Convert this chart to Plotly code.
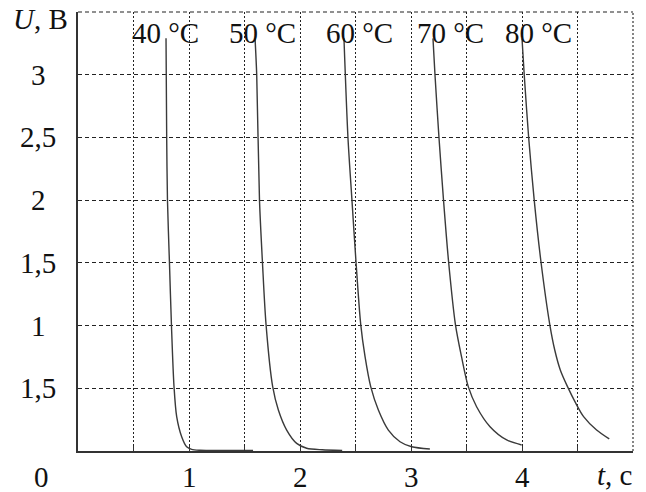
import plotly.graph_objects as go

# ---- data ----
temps = ["40 °C", "50 °C", "60 °C", "70 °C", "80 °C"]

t40 = [0.793, 0.799, 0.806, 0.824, 0.842, 0.865, 0.889, 0.934, 0.979, 1.024, 1.10, 1.30, 1.577]
u40 = [3.29, 2.5, 2.0, 1.5, 1.0, 0.513, 0.274, 0.114, 0.034, 0.013, 0.006, 0.004, 0.004]

t50 = [1.595, 1.61, 1.635, 1.662, 1.694, 1.754, 1.805, 1.880, 1.970, 2.06, 2.20, 2.38]
u50 = [3.29, 3.0, 2.0, 1.5, 1.01, 0.513, 0.327, 0.167, 0.061, 0.022, 0.010, 0.005]

t60 = [2.396, 2.432, 2.468, 2.504, 2.547, 2.586, 2.637, 2.706, 2.796, 2.901, 3.006, 3.17]
u60 = [3.29, 2.5, 2.0, 1.515, 1.01, 0.752, 0.513, 0.327, 0.167, 0.074, 0.034, 0.016]

t70 = [3.198, 3.216, 3.252, 3.293, 3.338, 3.400, 3.455, 3.516, 3.591, 3.712, 3.862, 3.997]
u70 = [3.29, 3.0, 2.5, 2.0, 1.515, 1.01, 0.752, 0.513, 0.353, 0.194, 0.088, 0.048]

t80 = [4.0, 4.02, 4.06, 4.11, 4.17, 4.25, 4.295, 4.345, 4.410, 4.485, 4.555, 4.672, 4.786]
u80 = [3.29, 3.0, 2.5, 2.0, 1.515, 1.01, 0.805, 0.646, 0.513, 0.38, 0.274, 0.167, 0.096]

x_tickvals = [0.5, 1, 1.5, 2, 2.5, 3, 3.5, 4, 4.5, 5]
x_labels = ["1", "2", "3", "4"]
x_label_vals = [1, 2, 3, 4]
y_tickvals = [0.5, 1, 1.5, 2, 2.5, 3, 3.5]
y_labels = ["1,5", "1", "1,5", "2", "2,5", "3"]
y_label_vals = [0.5, 1, 1.5, 2, 2.5, 3]

# label positions (layout, not data)
temp_label_x = [0.788, 1.662, 2.536, 3.356, 4.149]
temp_label_y = 3.33

FONT = "Liberation Serif"
FS = 29
INK = "#111111"
GRID = "#222"

series = [(t40, u40), (t50, u50), (t60, u60), (t70, u70), (t80, u80)]

fig = go.Figure()
for (tx, uy), name in zip(series, temps):
    fig.add_trace(go.Scatter(
        x=tx, y=uy, mode="lines", name=name,
        line=dict(color="#3a3a3a", width=1.4, shape="spline", smoothing=0.8),
        showlegend=False, hoverinfo="skip"))

ann = []
for txt, xv in zip(temps, temp_label_x):
    ann.append(dict(x=xv, y=temp_label_y, xref="x", yref="y", text=txt,
                    showarrow=False, xanchor="center", yanchor="middle",
                    font=dict(family=FONT, size=FS, color=INK)))
for txt, xv in zip(x_labels, x_label_vals):
    ann.append(dict(x=xv, y=0, xref="x", yref="paper", text=txt,
                    showarrow=False, xanchor="center", yanchor="middle",
                    yshift=-26, font=dict(family=FONT, size=FS, color=INK)))
for txt, yv in zip(y_labels, y_label_vals):
    ann.append(dict(x=0, y=yv, xref="paper", yref="y", text=txt,
                    showarrow=False, xanchor="center", yanchor="middle",
                    xshift=-40, font=dict(family=FONT, size=FS, color=INK)))
# origin label
ann.append(dict(x=0, y=0, xref="paper", yref="paper", text="0",
                showarrow=False, xanchor="center", yanchor="middle",
                xshift=-37, yshift=-26, font=dict(family=FONT, size=FS, color=INK)))
# axis titles
ann.append(dict(x=0, y=1, xref="paper", yref="paper", text="<i>U</i>, В",
                showarrow=False, xanchor="center", yanchor="middle",
                xshift=-38, yshift=-7, font=dict(family=FONT, size=FS, color=INK)))
ann.append(dict(x=1, y=0, xref="paper", yref="paper", text="<i>t</i>, c",
                showarrow=False, xanchor="center", yanchor="middle",
                xshift=-19, yshift=-24, font=dict(family=FONT, size=FS, color=INK)))

# dotted frame on top and right (plot-area edges, like the grid)
shapes = [
    dict(type="line", xref="paper", yref="paper", x0=0, x1=1, y0=1, y1=1,
         line=dict(color=GRID, width=1.1, dash="4px,3px")),
    dict(type="line", xref="paper", yref="paper", x0=1, x1=1, y0=0, y1=1,
         line=dict(color=GRID, width=1.1, dash="2px,2px")),
]

fig.update_layout(
    width=646, height=492,
    margin=dict(l=78, r=13, t=12, b=41),
    paper_bgcolor="white", plot_bgcolor="white",
    annotations=ann, shapes=shapes,
    xaxis=dict(range=[0, 5], tickvals=x_tickvals, showticklabels=False,
               showgrid=True, gridcolor=GRID, gridwidth=1.1, griddash="2px,2px",
               zeroline=False, showline=True, linecolor="#333", linewidth=1.6,
               ticks="inside", ticklen=5, tickcolor="#333", tickwidth=1.2,
               mirror=False),
    yaxis=dict(range=[0, 3.5], tickvals=y_tickvals, showticklabels=False,
               showgrid=True, gridcolor=GRID, gridwidth=1.1, griddash="4px,3px",
               zeroline=False, showline=True, linecolor="#333", linewidth=1.6,
               ticks=""),
)

fig.write_html("out.html")
